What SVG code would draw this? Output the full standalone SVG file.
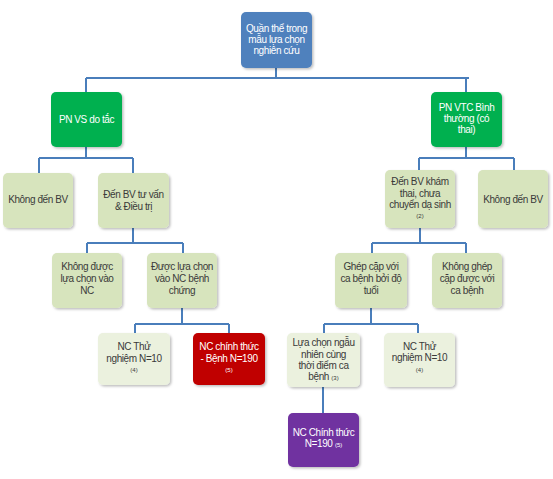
<svg xmlns="http://www.w3.org/2000/svg" width="553" height="479" viewBox="0 0 553 479">
<defs>
<filter id="sh" x="-10%" y="-10%" width="130%" height="130%">
<feDropShadow dx="1.5" dy="1.5" stdDeviation="1.2" flood-color="#000" flood-opacity="0.25"/>
</filter>
<style>
.b{stroke:none;filter:url(#sh)}
.blue{fill:#4f81bd}
.green{fill:#00b050}
.lg{fill:#d7e4bd}
.pg{fill:#ebf1de}
.red{fill:#c00000}
.pur{fill:#7030a0}
text{font-family:"Liberation Sans",Arial,sans-serif;font-size:10px;text-anchor:middle;letter-spacing:-0.4px}
.w{fill:#fff}
.d{fill:#3a3a3a}
.s{font-size:6px;letter-spacing:0}
.c{fill:none;stroke:#4a7ebb;stroke-width:2}
</style>
</defs>
<rect width="553" height="479" fill="#fff"/>
<g id="connectors" class="c">
<path d="M276 68V78M86 78H469M86 78V92M466 78V92"/>
<path d="M86 147V158M39 158H133M39 158V173M133 158V173"/>
<path d="M466 147V158M419 158H514M419 158V170M514 158V170"/>
<path d="M133 228V243M87 243H183M87 243V253M183 243V253"/>
<path d="M420 228V243M372 243H466M372 243V253M466 243V253"/>
<path d="M182 308V324M135 324H229M135 324V333M229 324V333"/>
<path d="M371 308V324M324 324H418M324 324V333M418 324V333"/>
<path d="M323 387V413"/>
</g>
<g id="n_top"><rect class="b blue" x="241" y="12" width="71" height="56" rx="5"/>
<text class="w" x="276.5" y="32">Quần thể trong</text><text class="w" x="276.5" y="43">mẫu lựa chọn</text><text class="w" x="276.5" y="54">nghiên cứu</text></g>
<g id="n_pnvs"><rect class="b green" x="51" y="92" width="71" height="55" rx="5"/>
<text class="w" x="86.5" y="123">PN VS do tắc</text></g>
<g id="n_pnvtc"><rect class="b green" x="431" y="92" width="71" height="55" rx="5"/>
<text class="w" x="466.5" y="111">PN VTC Bình</text><text class="w" x="466.5" y="122">thường (có</text><text class="w" x="466.5" y="133">thai)</text></g>
<g id="n_khongden1"><rect class="b lg" x="3" y="173" width="70" height="55" rx="5"/>
<text class="d" x="38" y="203">Không đến BV</text></g>
<g id="n_den1"><rect class="b lg" x="98" y="173" width="71" height="55" rx="5"/>
<text class="d" x="133.5" y="198">Đến BV tư vấn</text><text class="d" x="133.5" y="210">&amp; Điều trị</text></g>
<g id="n_den2"><rect class="b lg" x="385" y="170" width="70" height="58" rx="5"/>
<text class="d" x="420" y="185">Đến BV khám</text><text class="d" x="420" y="197">thai, chưa</text><text class="d" x="420" y="208">chuyển dạ sinh</text><text class="d s" x="420" y="218">(2)</text></g>
<g id="n_khongden2"><rect class="b lg" x="478" y="170" width="70" height="58" rx="5"/>
<text class="d" x="513" y="203">Không đến BV</text></g>
<g id="n_khongduoc"><rect class="b lg" x="52" y="253" width="70" height="55" rx="5"/>
<text class="d" x="87" y="270">Không được</text><text class="d" x="87" y="282">lựa chọn vào</text><text class="d" x="87" y="294">NC</text></g>
<g id="n_duoc"><rect class="b lg" x="147" y="253" width="70" height="55" rx="5"/>
<text class="d" x="182" y="270">Được lựa chọn</text><text class="d" x="182" y="282">vào NC bệnh</text><text class="d" x="182" y="294">chứng</text></g>
<g id="n_ghep"><rect class="b lg" x="335" y="253" width="72" height="55" rx="5"/>
<text class="d" x="371" y="270">Ghép cặp với</text><text class="d" x="371" y="282">ca bệnh bởi độ</text><text class="d" x="371" y="294">tuổi</text></g>
<g id="n_khongghep"><rect class="b lg" x="432" y="253" width="70" height="55" rx="5"/>
<text class="d" x="467" y="270">Không ghép</text><text class="d" x="467" y="282">cặp được với</text><text class="d" x="467" y="294">ca bệnh</text></g>
<g id="n_thu1"><rect class="b pg" x="98" y="333" width="72" height="52" rx="5"/>
<text class="d" x="134" y="350">NC Thử</text><text class="d" x="134" y="362">nghiệm N=10</text><text class="d s" x="134" y="372">(4)</text></g>
<g id="n_chinh1"><rect class="b red" x="193" y="333" width="72" height="52" rx="5"/>
<text class="w" x="229" y="350">NC chính thức</text><text class="w" x="229" y="362">- Bệnh N=190</text><text class="w s" x="229" y="372">(5)</text></g>
<g id="n_ngaunhien"><rect class="b pg" x="287" y="333" width="73" height="54" rx="5"/>
<text class="d" x="323.5" y="346">Lựa chọn ngẫu</text><text class="d" x="323.5" y="358">nhiên cùng</text><text class="d" x="323.5" y="369">thời điểm ca</text><text class="d" x="323.5" y="380">bệnh <tspan class="s">(3)</tspan></text></g>
<g id="n_thu2"><rect class="b pg" x="384" y="333" width="71" height="54" rx="5"/>
<text class="d" x="419.5" y="350">NC Thử</text><text class="d" x="419.5" y="361">nghiệm N=10</text><text class="d s" x="419.5" y="372">(4)</text></g>
<g id="n_chinh2"><rect class="b pur" x="288" y="413" width="71" height="54" rx="5"/>
<text class="w" x="323.5" y="436">NC Chính thức</text><text class="w" x="323.5" y="447">N=190 <tspan class="s">(5)</tspan></text></g>
</svg>
